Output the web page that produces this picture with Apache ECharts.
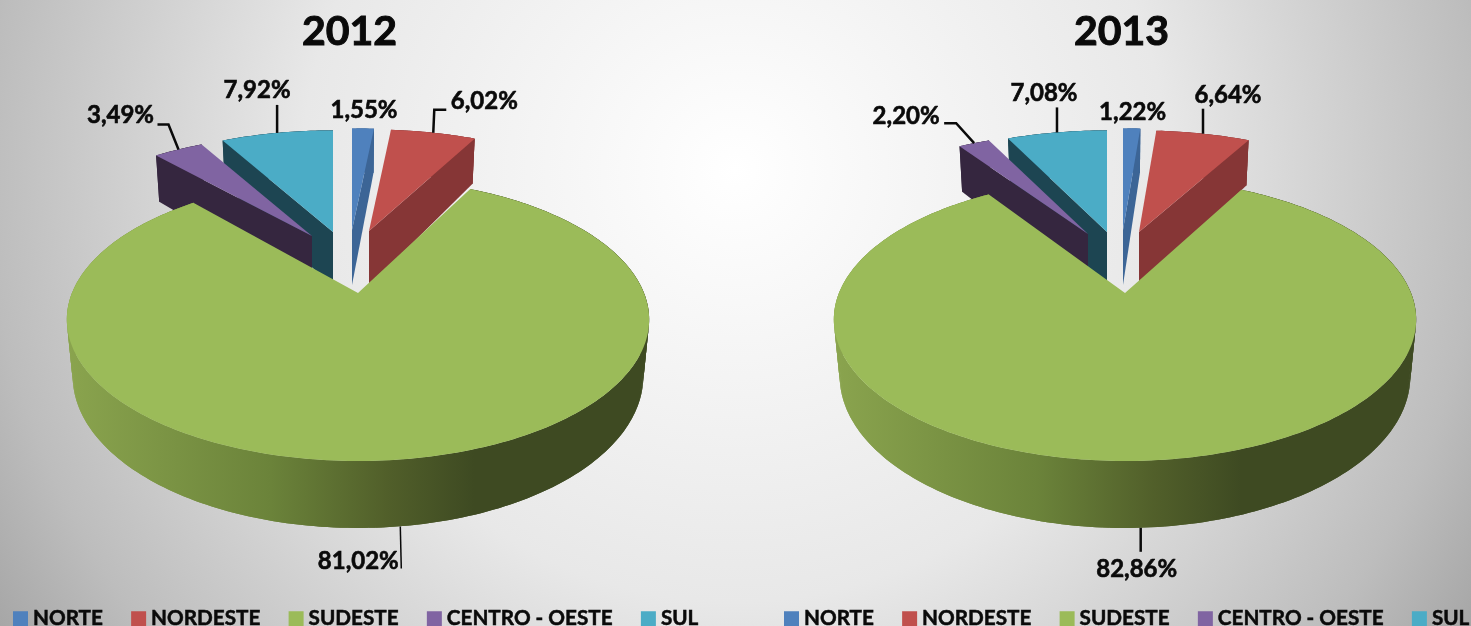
<!DOCTYPE html>
<html>
<head>
<meta charset="utf-8">
<style>
  html, body { margin: 0; padding: 0; overflow: hidden; }
  #chart { width: 1471px; height: 626px; }
</style>
<script src="https://cdn.jsdelivr.net/npm/echarts@6/dist/echarts.min.js"></script>
</head>
<body>
<div id="chart"></div>
<script>
const categories = ['NORTE', 'NORDESTE', 'SUDESTE', 'CENTRO - OESTE', 'SUL']
const years = ['2012', '2013']
const values2012 = [1.55, 6.02, 81.02, 3.49, 7.92]
const values2013 = [1.22, 6.64, 82.86, 2.20, 7.08]

// slice colours: top face, then side wall
const topColors = ['#4f81bd', '#c0504d', '#9bbb59', '#8064a2', '#4bacc6']
const wallColors = ['#3c6596', '#863636', '#3e4a22', '#35263f', '#1d4552']
const textFont = 'Lato'

// excel draws the exploded slices each at its own spot, so they are set one by one
const smallDisc = { rx: 282, ry: 127, k: 0.25, depth: 55 }
const bigDisc = { rx: 286, ry: 136.5, k: 0.1875, depth: 54.4 }
const pies = [
  {
    title: 302,
    values: values2012,
    apex: [[352, 230], [369, 231], [358, 293], [312, 236], [333, 232]],
    labels: [
      { at: [1, -18] },
      { at: [51, -31], line: [[0, 0], [1, -23], [13, -23]] },
      { at: [-42, 102], line: [[0, 67], [1, 109]] },
      { at: [-58, -34], line: [[0, 0], [-10, -25], [-21, -25]] },
      { at: [-20, -43], line: [[0, 0], [0, -28]] }
    ]
  },
  {
    title: 1074,
    values: values2013,
    apex: [[1123, 230], [1139, 232], [1125, 293], [1088, 234], [1107, 232]],
    labels: [
      { at: [1, -16] },
      { at: [25, -38], line: [[0, 0], [0, -25]] },
      { at: [-4, 108], line: [[0, 67], [0, 91]] },
      { at: [-68, -27], line: [[0, 0], [-18, -20], [-30, -20]] },
      { at: [-13, -39], line: [[0, 0], [0, -25]] }
    ]
  }
]

// clockwise from 12 o'clock, in radians, for one pie
function sliceAngles(values) {
  const total = values.reduce((a, b) => a + b, 0)
  let sum = 0
  return values.map(v => {
    const start = sum / total * Math.PI * 2
    sum += v
    return [start, sum / total * Math.PI * 2]
  })
}

// perspective of the tilted disc, relative to the slice apex
function project(disc, angle) {
  const X = Math.sin(angle)
  const Y = -Math.cos(angle)
  const w = 1 / (1 - disc.k * Y)
  return [disc.rx * X * w, disc.ry * Y * w, w]
}

function renderSlice(pie, index) {
  const angles = sliceAngles(pie.values)[index]
  const disc = index === 2 ? bigDisc : smallDisc
  const [ax, ay] = pie.apex[index]
  const steps = Math.max(4, Math.ceil((angles[1] - angles[0]) / 0.02))
  const arc = []
  const arcLow = []
  for (let i = 0; i <= steps; i++) {
    const p = project(disc, angles[0] + (angles[1] - angles[0]) * i / steps)
    arc.push([ax + p[0], ay + p[1]])
    arcLow.push([ax + p[0] * 0.98, ay + p[1] + disc.depth * p[2]])
  }
  const apexLow = [ax, ay + disc.depth]
  const children = []
  const wallFill = index === 2
    ? new echarts.graphic.LinearGradient(ax - 291, 0, ax + 291, 0, [
        { offset: 0, color: '#8aa44e' },
        { offset: 0.35, color: '#6b833a' },
        { offset: 0.55, color: '#515f2a' },
        { offset: 0.7, color: '#3e4a22' },
        { offset: 1, color: '#3e4a22' }
      ], true)
    : wallColors[index]

  // outer wall as overlapping strips, the faces on top cover what is hidden
  for (let i = 0; i < steps; i++) {
    const j = Math.min(i + 2, steps)
    children.push({
      type: 'polygon',
      shape: { points: [arc[i], arc[i + 1], arc[j], arcLow[j], arcLow[i + 1], arcLow[i]] },
      style: { fill: wallFill }
    })
  }
  // cut walls
  if (index !== 2) {
    const first = index === 0 || index === 1
    const end = first ? arc.length - 1 : 0
    children.push({
      type: 'polygon',
      shape: { points: [[ax, ay], arc[end], arcLow[end], apexLow] },
      style: { fill: wallColors[index] }
    })
  }
  children.push({
    type: 'polygon',
    shape: { points: [[ax, ay]].concat(arc) },
    style: { fill: topColors[index] }
  })

  // leader line and value, hung from the middle of the outer edge
  const mid = project(disc, (angles[0] + angles[1]) / 2)
  const ox = ax + mid[0]
  const oy = ay + mid[1]
  const label = pie.labels[index]
  if (label.line) {
    children.push({
      type: 'polyline',
      shape: { points: label.line.map(d => [ox + d[0], oy + d[1]]) },
      style: { fill: 'none', stroke: '#0a0a0a', lineWidth: index === 2 && pie.values === values2012 ? 1.5 : 2.5 }
    })
  }
  children.push({
    type: 'text',
    style: {
      text: pie.values[index].toFixed(2).replace('.', ',') + '%',
      x: ox + label.at[0],
      y: oy + label.at[1],
      align: 'center',
      verticalAlign: 'middle',
      fill: '#0a0a0a',
      stroke: '#0a0a0a',
      lineWidth: 0.6,
      fontFamily: textFont,
      fontWeight: 'bold',
      fontSize: 24
    }
  })
  return { type: 'group', children }
}

const chart = echarts.init(document.getElementById('chart'), null, { renderer: 'canvas' })

const series = []
pies.forEach(pie => {
  // paint order: back slices first, the big one last
  [4, 0, 1, 3, 2].forEach(i => {
    series.push({
      type: 'custom',
      name: categories[i],
      coordinateSystem: 'none',
      silent: true,
      itemStyle: { color: topColors[i] },
      data: [[pie.values[i]]],
      renderItem: () => renderSlice(pie, i)
    })
  })
})

const legendBase = {
  top: 608,
  width: 800,
  padding: 0,
  icon: 'rect',
  itemWidth: 15,
  itemHeight: 15,
  itemGap: 28,
  selectedMode: false,
  textStyle: {
    fontFamily: textFont, fontWeight: 'bold', fontSize: 20.7, color: '#0a0a0a',
    textBorderColor: '#0a0a0a', textBorderWidth: 0.5
  },
  data: categories.map((name, i) => ({ name, itemStyle: { color: topColors[i] } }))
}

chart.setOption({
  animation: false,
  backgroundColor: new echarts.graphic.RadialGradient(735, 170, 900, [
    { offset: 0, color: '#ffffff' },
    { offset: 0.48, color: '#e8e8e8' },
    { offset: 0.83, color: '#bdbdbd' },
    { offset: 1, color: '#a0a0a0' }
  ], true),
  title: pies.map((pie, i) => ({
    text: years[i],
    left: pie.title,
    top: 11,
    padding: 0,
    textStyle: {
      fontFamily: textFont, fontWeight: 'bold', fontSize: 41, color: '#0a0a0a',
      textBorderColor: '#0a0a0a', textBorderWidth: 1
    }
  })),
  legend: [
    Object.assign({}, legendBase, { left: 13 }),
    Object.assign({}, legendBase, { left: 784 })
  ],
  series
})
</script>
</body>
</html>
